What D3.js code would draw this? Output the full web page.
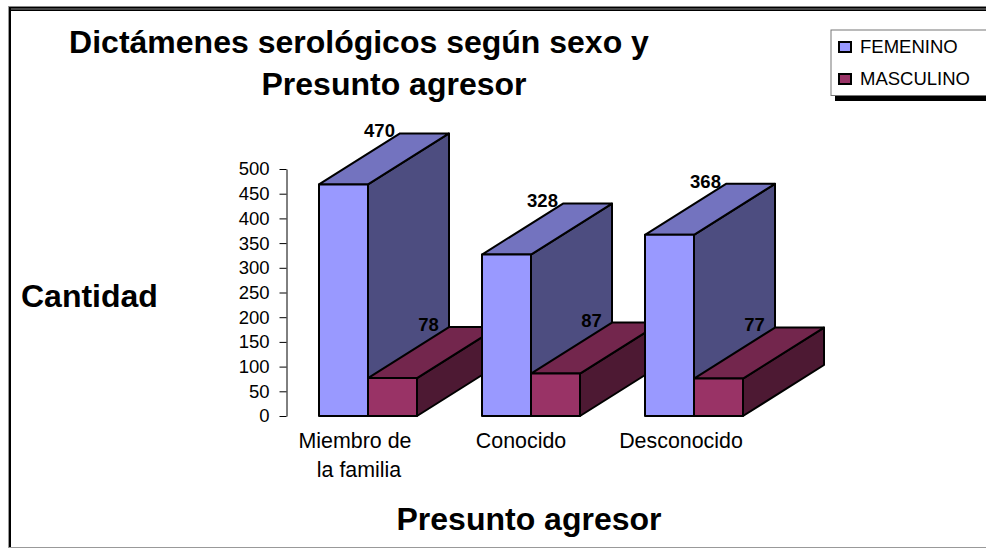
<!DOCTYPE html>
<html>
<head>
<meta charset="utf-8">
<script src="https://cdn.jsdelivr.net/npm/d3@7"></script>
<style>
  html, body { margin: 0; padding: 0; background: #fff; }
  svg { display: block; }
  text { font-family: "Liberation Sans", Arial, sans-serif; fill: #000; }
</style>
</head>
<body>
<div id="chart"></div>
<script>
const categories = ["Miembro de|la familia", "Conocido", "Desconocido"];
const seriesNames = ["FEMENINO", "MASCULINO"];
const femenino = [470, 328, 368];
const masculino = [78, 87, 77];
const yTicks = [0, 50, 100, 150, 200, 250, 300, 350, 400, 450, 500];
const faceColors = ["#9999ff", "#993366"];
const topColors = ["#7373bf", "#73264d"];
const sideColors = ["#4d4d80", "#4d1933"];

const width = 986, height = 548;
const depthX = 81, depthY = -51;

const svg = d3.select("#chart").append("svg")
  .attr("width", width)
  .attr("height", height);

// marco
svg.append("rect").attr("x", 8).attr("y", 6).attr("width", 978).attr("height", 5).attr("fill", "#888");
svg.append("rect").attr("x", 9).attr("y", 7).attr("width", 977).attr("height", 1.5).attr("fill", "#000");
svg.append("rect").attr("x", 9).attr("y", 9.5).attr("width", 977).attr("height", 1.5).attr("fill", "#000");
svg.append("rect").attr("x", 8).attr("y", 6).attr("width", 1).attr("height", 542).attr("fill", "#999");
svg.append("rect").attr("x", 9).attr("y", 7).attr("width", 2).attr("height", 541).attr("fill", "#000");
svg.append("rect").attr("x", 8).attr("y", 547).attr("width", 978).attr("height", 1).attr("fill", "#999");

const x = d3.scaleBand().domain(categories).range([286.5, 775.5]);
const y = d3.scaleLinear().domain([0, 500]).range([416, 169]);
const barW = 49;

// eje y
const yAxis = d3.axisLeft(y).tickValues(yTicks).tickSize(7).tickSizeOuter(0).tickPadding(10);
const gy = svg.append("g").attr("transform", "translate(286.5,0)").call(yAxis);
gy.select(".domain").attr("stroke", "#000");
gy.selectAll("line").attr("stroke", "#000");
gy.selectAll("text").style("font-size", "18.5px").attr("fill", "#000");

function box(g, x0, v, s) {
  const x1 = x0 + barW, y0 = y(0), y1 = y(v) + 0.6;
  const poly = (pts, fill) => g.append("path")
    .attr("d", d3.line()(pts) + "Z")
    .attr("fill", fill)
    .attr("stroke", "#000")
    .attr("stroke-width", 2)
    .attr("stroke-linejoin", "round");
  poly([[x1, y0], [x1 + depthX, y0 + depthY], [x1 + depthX, y1 + depthY], [x1, y1]], sideColors[s]);
  poly([[x0, y1], [x1, y1], [x1 + depthX, y1 + depthY], [x0 + depthX, y1 + depthY]], topColors[s]);
  poly([[x0, y0], [x1, y0], [x1, y1], [x0, y1]], faceColors[s]);
}

const bars = svg.append("g");
categories.forEach((c, i) => {
  const mid = x(c) + x.bandwidth() / 2;
  box(bars, mid - barW, femenino[i], 0);
  box(bars, mid, masculino[i], 1);
});

// valores
const labels = svg.append("g").style("font-size", "18.5px").style("font-weight", "bold").attr("text-anchor", "middle");
categories.forEach((c, i) => {
  const mid = x(c) + x.bandwidth() / 2;
  labels.append("text").attr("x", mid - barW / 2 + 36).attr("y", y(femenino[i]) - 46.5).text(femenino[i]);
  labels.append("text").attr("x", mid + barW / 2 + 36).attr("y", y(masculino[i]) - 46.5).text(masculino[i]);
});

// categorias
const catOffset = [-13, -10, -13];
categories.forEach((c, i) => {
  const mid = x(c) + x.bandwidth() / 2;
  const t = svg.append("text").attr("text-anchor", "middle").style("font-size", "21.4px");
  c.split("|").forEach((part, k) => {
    t.append("tspan").attr("x", mid + catOffset[i] + k * 4).attr("y", 447.5 + k * 29.5).text(part);
  });
});

// titulos
const title = svg.append("text").attr("text-anchor", "middle").style("font-size", "32px").style("font-weight", "bold");
title.append("tspan").attr("x", 359).attr("y", 53).text("Dictámenes serológicos según sexo y");
title.append("tspan").attr("x", 394).attr("y", 95).text("Presunto agresor");
svg.append("text").attr("x", 21).attr("y", 307).style("font-size", "32px").style("font-weight", "bold").text("Cantidad");
svg.append("text").attr("x", 529).attr("y", 530).attr("text-anchor", "middle").style("font-size", "32px").style("font-weight", "bold").text("Presunto agresor");

// leyenda
svg.append("rect").attr("x", 835).attr("y", 33).attr("width", 151).attr("height", 68).attr("fill", "#000");
svg.append("rect").attr("x", 831).attr("y", 30).attr("width", 156).attr("height", 65.5).attr("fill", "#fff").attr("stroke", "#777");
seriesNames.forEach((n, i) => {
  const ly = 47 + i * 32;
  svg.append("rect").attr("x", 839).attr("y", ly - 5).attr("width", 12).attr("height", 10)
    .attr("fill", faceColors[i]).attr("stroke", "#000").attr("stroke-width", 2);
  svg.append("text").attr("x", 860).attr("y", ly + 6).style("font-size", "18.5px").text(n);
});
</script>
</body>
</html>
